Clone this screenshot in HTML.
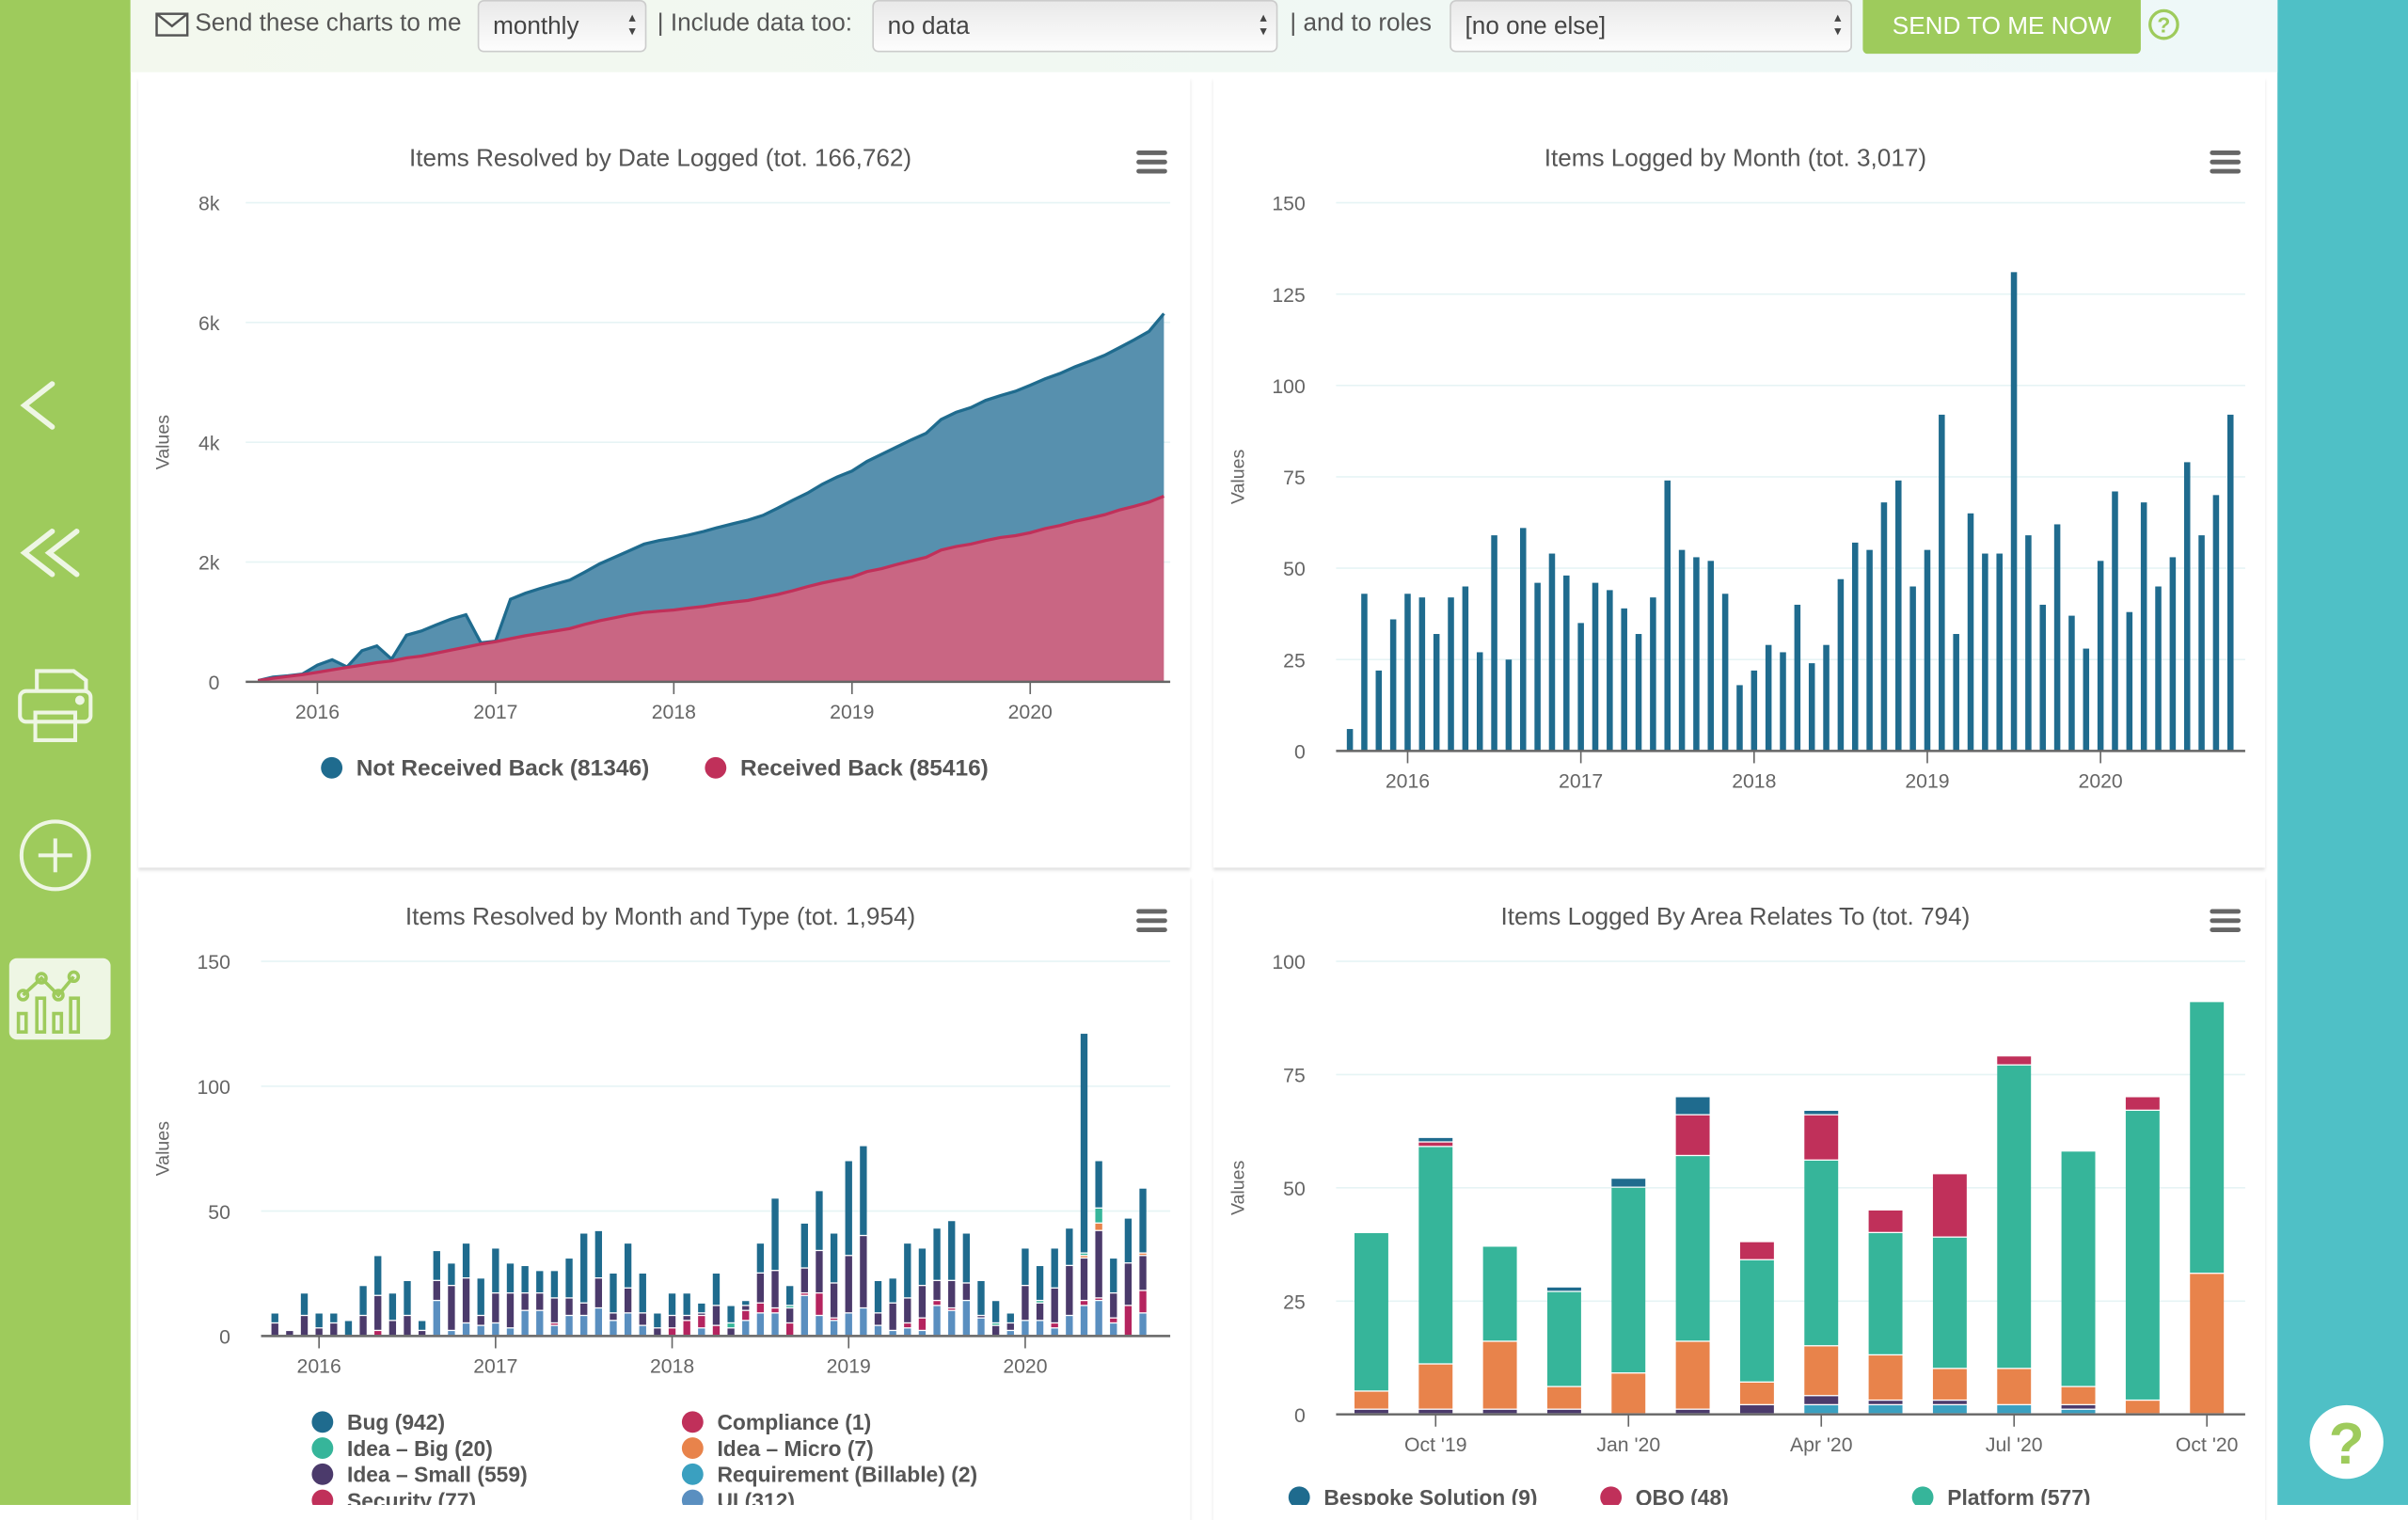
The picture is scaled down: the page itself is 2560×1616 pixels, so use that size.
<!DOCTYPE html>
<html><head><meta charset="utf-8">
<style>
html,body{margin:0;padding:0;width:2560px;height:1600px;overflow:hidden;background:#fff;}
#stage{position:absolute;left:0;top:0;width:1568px;height:980px;transform:scale(1.632653);transform-origin:0 0;font-family:"Liberation Sans",sans-serif;}
.side{position:absolute;left:0;top:0;width:85px;height:980px;background:#9ecb5c;}
.rside{position:absolute;left:1483px;top:0;width:85px;height:980px;background:#4fc0c6;}
.topbar{position:absolute;left:85px;top:0;width:1398px;height:47px;background:linear-gradient(90deg,#f3f8ee,#eef8f8);font-size:16px;color:#555;}
.topbar .t{position:absolute;top:7px;white-space:nowrap;}
.sel{position:absolute;top:0;height:34px;border:1px solid #ccc;border-radius:4px;background:linear-gradient(#e9e9e9,#fdfdfd);box-sizing:border-box;font-size:16px;color:#444;padding:8px 0 0 9px;}
.sel:after{content:"\25B4\A\25BE";white-space:pre;position:absolute;right:6px;top:6px;font-size:9px;line-height:9px;color:#444;}
.btn{position:absolute;left:1128px;top:0;width:181px;height:35px;background:#9ecb5c;color:#fff;font-size:16px;text-align:center;line-height:35px;border-radius:0 0 3px 3px;}
.panel{position:absolute;background:#fff;box-shadow:0 2px 2px rgba(0,0,0,0.12);}
svg text{font-family:"Liberation Sans",sans-serif;}
</style></head>
<body>
<div id="stage">
<div class="side">
 <svg width="85" height="980">
  <g fill="none" stroke="#eef6e4" stroke-width="3.5" stroke-linecap="round">
   <polyline points="34,250 16,264 34,278"/>
   <polyline points="34,346 16,360 34,374"/>
   <polyline points="50,346 32,360 50,374"/>
  </g>
  <g fill="none" stroke="#eef6e4" stroke-width="2.5">
   <path d="M24,450 V437 H48 L56,443 V450"/>
   <rect x="13" y="450" width="46" height="20" rx="4"/>
   <rect x="23" y="464" width="26" height="18"/>
   <circle cx="52" cy="456" r="1.8" fill="#eef6e4"/>
  </g>
  <g fill="none" stroke="#eef6e4" stroke-width="2.5">
   <circle cx="36" cy="557" r="22"/>
   <line x1="25" y1="557" x2="47" y2="557"/><line x1="36" y1="546" x2="36" y2="568"/>
  </g>
  <g>
   <rect x="6" y="624" width="66" height="53" rx="5" fill="#eef6e4"/>
   <g fill="none" stroke="#9ecb5c" stroke-width="2.2">
    <polyline points="15,648 27,637 38,648 48,636"/>
    <circle cx="15" cy="648" r="3"/><circle cx="27" cy="637" r="3"/><circle cx="38" cy="648" r="3"/><circle cx="48" cy="636" r="3"/>
    <rect x="12" y="660" width="5" height="12"/><rect x="24" y="650" width="5" height="22"/><rect x="35" y="660" width="5" height="12"/><rect x="46" y="650" width="5" height="22"/>
   </g>
  </g>
 </svg>
</div>
<div class="rside"></div>

<div class="topbar">
 <svg style="position:absolute;left:16px;top:7px" width="22" height="18"><rect x="1" y="2" width="20" height="14" fill="none" stroke="#555" stroke-width="1.5"/><polyline points="1,2 11,10 21,2" fill="none" stroke="#555" stroke-width="1.5"/></svg>
 <span class="t" style="left:42px">Send these charts to me</span>
 <div class="sel" style="left:226px;width:110px">monthly</div>
 <span class="t" style="left:343px">| Include data too:</span>
 <div class="sel" style="left:483px;width:264px">no data</div>
 <span class="t" style="left:755px">| and to roles</span>
 <div class="sel" style="left:859px;width:262px">[no one else]</div>
 <div class="btn">SEND TO ME NOW</div>
 <svg style="position:absolute;left:1313px;top:5px" width="22" height="22"><circle cx="11" cy="11" r="9" fill="none" stroke="#9ecb5c" stroke-width="2"/><text x="11" y="16" text-anchor="middle" font-size="14" font-weight="bold" fill="#9ecb5c">?</text></svg>
</div>

<div class="panel" style="left:90px;top:50px;width:685px;height:515px"></div>
<div class="panel" style="left:790px;top:50px;width:685px;height:515px"></div>
<div class="panel" style="left:90px;top:570px;width:685px;height:420px"></div>
<div class="panel" style="left:790px;top:570px;width:685px;height:420px"></div>

<svg id="charts" width="1568" height="980" style="position:absolute;left:0;top:0"></svg>

<svg style="position:absolute;left:1502px;top:913px" width="52" height="52"><circle cx="26" cy="26" r="24" fill="#fff"/><text x="26" y="40" text-anchor="middle" font-size="38" font-weight="bold" fill="#9ecb5c">?</text></svg>
</div>

<script>
// ---- Chart 1: Items Resolved by Date Logged (cumulative, Sep 2015 - Oct 2020)
const c1Received = [20,60,90,120, 160,200,240,280,320,350,400,430,480,530,580,630, 670,720,770,810,850,890,960,1020,1070,1120,1160,1180, 1200,1230,1260,1300,1330,1360,1410,1460,1520,1590,1650,1700, 1750,1840,1890,1960,2020,2080,2200,2260,2300,2360,2410,2440, 2490,2560,2610,2680,2730,2790,2870,2930,3000,3100];
const c1NotReceived = [0,20,10,10, 120,170,10,240,280,30,380,420,470,520,540,20, 10,660,710,750,780,810,870,950,1010,1070,1140,1180, 1200,1220,1250,1280,1310,1340,1370,1440,1510,1560,1650,1720, 1770,1840,1910,1960,2020,2070,2180,2240,2280,2340,2370,2410, 2460,2500,2540,2580,2620,2660,2710,2780,2850,3050];
const c1YTicks = [0,2000,4000,6000,8000];
const c1YLabels = ["0","2k","4k","6k","8k"];
const c1XTickIdx = [4,16,28,40,52];
const c1XLabels = ["2016","2017","2018","2019","2020"];
const c1Legend = ["Not Received Back (81346)","Received Back (85416)"];

// ---- Chart 2: Items Logged by Month (Sep 2015 - Oct 2020)
const c2Values = [6,43,22,36,43,42,32,42,45,27,59,25,61,46,54,48,35,46,44,39,32,42,74,55,53,52,43,18,22,29,27,40,24,29,47,57,55,68,74,45,55,92,32,65,54,54,131,59,40,62,37,28,52,71,38,68,45,53,79,59,70,92];
const c2YTicks = [0,25,50,75,100,125,150];
const c2XTickIdx = [4,16,28,40,52];
const c2XLabels = ["2016","2017","2018","2019","2020"];

// ---- Chart 3: Items Resolved by Month and Type (Oct 2015 - Sep 2020)
const c3UI =       [0,0,0,0,0,0,0,0,0,0,0,14,2,5,4,5,3,10,10,4,8,8,11,6,9,4,0,0,0,3,0,0,6,9,9,0,16,8,6,9,11,4,2,3,2,12,10,14,7,0,2,6,6,3,8,12,14,5,0,9];
const c3Security = [0,0,0,0,0,0,0,2,0,0,0,0,0,0,0,0,0,0,0,1,0,0,0,0,0,0,0,3,6,5,4,0,4,4,2,5,1,9,1,0,0,0,0,2,5,2,1,0,0,0,0,0,0,2,0,2,1,2,12,9];
const c3Small =    [5,2,8,3,5,0,8,14,6,8,2,8,18,18,4,12,14,7,7,10,7,5,12,3,10,5,3,5,2,1,8,3,2,12,15,6,10,17,14,23,29,5,11,10,13,8,11,7,1,4,3,14,7,14,20,17,27,10,17,14];
const c3Micro =    [0,0,0,0,0,0,0,0,0,0,0,0,0,0,0,0,0,0,0,0,0,0,0,0,0,0,0,0,0,0,0,0,0,0,0,0,0,0,0,0,0,0,0,0,0,0,0,0,0,0,0,0,0,0,0,1,3,0,0,1];
const c3Big =      [0,0,0,0,0,0,0,0,0,0,0,0,0,0,0,0,0,0,0,0,0,0,0,0,0,0,0,0,0,0,0,2,0,0,0,1,0,0,0,0,0,0,0,0,0,0,0,0,0,1,0,0,1,0,0,1,6,0,0,0];
const c3Bug =      [4,0,9,6,4,6,12,16,11,14,4,12,9,14,15,18,12,11,9,11,16,28,19,16,18,16,6,9,9,4,13,7,2,12,29,8,18,24,20,38,36,13,10,22,15,21,24,20,14,9,4,15,14,16,15,88,19,14,18,26];
const c3YTicks = [0,50,100,150];
const c3XTickIdx = [3,15,27,39,51];
const c3XLabels = ["2016","2017","2018","2019","2020"];
const c3LegendLeft = ["Bug (942)","Idea – Big (20)","Idea – Small (559)","Security (77)"];
const c3LegendRight = ["Compliance (1)","Idea – Micro (7)","Requirement (Billable) (2)","UI (312)"];

// ---- Chart 4: Items Logged By Area Relates To (Sep 2019 - Oct 2020)
const c4Req =      [0,0,0,0,0,0,0,2,2,2,2,1,0,0];
const c4Small =    [1,1,1,1,0,1,2,2,1,1,0,1,0,0];
const c4Micro =    [4,10,15,5,9,15,5,11,10,7,8,4,3,31];
const c4Platform = [35,48,21,21,41,41,27,41,27,29,67,52,64,60];
const c4QBO =      [0,1,0,0,0,9,4,10,5,14,2,0,3,0];
const c4Bespoke =  [0,1,0,1,2,4,0,1,0,0,0,0,0,0];
const c4YTicks = [0,25,50,75,100];
const c4XTickIdx = [1,4,7,10,13];
const c4XLabels = ["Oct '19","Jan '20","Apr '20","Jul '20","Oct '20"];
const c4Legend = ["Bespoke Solution (9)","QBO (48)","Platform (577)"];

const svg = document.getElementById('charts');
const NS = 'http://www.w3.org/2000/svg';
function mk(tag, attrs, parent){
  const e = document.createElementNS(NS, tag);
  for (const k in attrs) e.setAttribute(k, attrs[k]);
  (parent||svg).appendChild(e);
  return e;
}
function txt(x,y,s,size,fill,anchor,parent,weight){
  const t = mk('text',{x:x,y:y,'font-size':size,fill:fill,'text-anchor':anchor||'middle','font-weight':weight||'normal'},parent);
  t.textContent = s;
  return t;
}
function frame(name, title, tx, ty, hx, x0, x1, yTicks, yLabels, yFn, yLabX, axisY, xIdx, xLabels, xFn, vTitleX){
  const g = mk('g',{});
  
  
  const tt = txt(tx,ty,title,16,'#555','middle',g);
  
  
  const hb = mk('g',{},g);
  
  
  for (let k=0;k<3;k++) mk('rect',{x:hx-10,y:ty-10+k*6,width:20,height:3,rx:1.5,fill:'#666'},hb);
  yTicks.forEach((v,i)=>{
    const y = yFn(v);
    if (i>0){
      const gl = mk('line',{x1:x0,x2:x1,y1:y,y2:y,stroke:'#e6f4f5','stroke-width':1},g);
      
      
    }
    const l = txt(yLabX,y+5,yLabels?yLabels[i]:String(v),13,'#666','end',g);
    
    
  });
  const vt = txt(0,0,'Values',12,'#666','middle',g);
  vt.setAttribute('transform','translate('+vTitleX+','+yFn((yTicks[0]+yTicks[yTicks.length-1])/2)+') rotate(-90)');
  
  
  xIdx.forEach((ix,i)=>{
    const x = xFn(ix);
    mk('line',{x1:x,x2:x,y1:axisY,y2:axisY+8,stroke:'#666','stroke-width':1},g);
    const l = txt(x,axisY+24,xLabels[i],13,'#666','middle',g);
    
    
  });
  return g;
}

// Chart 1
(function(){
  const xF = i => 168 + i*9.67;
  const yF = v => 444 - v*312/8000;
  const g = frame('resolved-by-date-chart','Items Resolved by Date Logged (tot. 166,762)',430,108,750,160,762,c1YTicks,c1YLabels,yF,143,444,c1XTickIdx,c1XLabels,xF,110);
  const n = c1Received.length;
  let red = [], top = [];
  for (let i=0;i<n;i++){ red.push([xF(i),yF(c1Received[i])]); top.push([xF(i),yF(c1Received[i]+c1NotReceived[i])]); }
  const pts = a => a.map(p=>p[0].toFixed(1)+','+p[1].toFixed(1)).join(' ');
  const ab = mk('polygon',{points:pts(top)+' '+pts(red.slice().reverse()),fill:'#5790ae'},g);
  
  
  const ar = mk('polygon',{points:pts(red)+' '+xF(n-1)+','+yF(0)+' '+xF(0)+','+yF(0),fill:'#c96683'},g);
  
  
  mk('polyline',{points:pts(top),fill:'none',stroke:'#1f6b8e','stroke-width':2},g);
  mk('polyline',{points:pts(red),fill:'none',stroke:'#c0305a','stroke-width':2},g);
  mk('line',{x1:160,x2:762,y1:444,y2:444,stroke:'#666','stroke-width':1.5},g);
  const cols = ['#1f6b8e','#c0305a'], lx=[216,466];
  c1Legend.forEach((s,i)=>{
    const lg = mk('g',{},g);
    
    
    mk('circle',{cx:lx[i],cy:500,r:7,fill:cols[i]},lg);
    txt(lx[i]+16,505,s,15,'#555','start',lg,'bold');
  });
})();

// Chart 2
(function(){
  const xF = i => 879 + i*9.4;
  const yF = v => 489 - v*357/150;
  const g = frame('logged-by-month-chart','Items Logged by Month (tot. 3,017)',1130,108,1449,870,1462,c2YTicks,null,yF,850,489,c2XTickIdx,c2XLabels,xF,810);
  c2Values.forEach((v,i)=>{
    const r = mk('rect',{x:xF(i)-2,y:yF(v),width:4,height:yF(0)-yF(v),fill:'#1f6b8e'},g);
    
    
  });
  mk('line',{x1:870,x2:1462,y1:489,y2:489,stroke:'#666','stroke-width':1.5},g);
})();

// stacked bar helper
function stack(g, series, colors, xF, yF, w){
  const n = series[0].length;
  for (let i=0;i<n;i++){
    let acc = 0;
    series.forEach((s,k)=>{
      const v = s[i];
      if (v<=0) return;
      const y0 = yF(acc), y1 = yF(acc+v);
      const r = mk('rect',{x:xF(i)-w/2,y:y1,width:w,height:Math.max(0,y0-y1-0.8),fill:colors[k]},g);
      
      
      acc += v;
    });
  }
}

// Chart 3
(function(){
  const xF = i => 179 + i*9.58;
  const yF = v => 870 - v*244/150;
  const g = frame('resolved-by-type-chart','Items Resolved by Month and Type (tot. 1,954)',430,602,750,170,762,c3YTicks,null,yF,150,870,c3XTickIdx,c3XLabels,xF,110);
  stack(g,[c3UI,c3Security,c3Small,c3Micro,c3Big,c3Bug],['#5a8fc0','#b5245f','#4b3a6b','#e8834b','#36b59a','#1f6b8e'],xF,yF,4.5);
  mk('line',{x1:170,x2:762,y1:870,y2:870,stroke:'#666','stroke-width':1.5},g);
  const cl=['#1f6b8e','#36b59a','#4b3a6b','#c0305a'], cr=['#c0305a','#e8834b','#3aa0c0','#5a8fc0'];
  c3LegendLeft.forEach((s,i)=>{
    const lg = mk('g',{},g);
    
    
    mk('circle',{cx:210,cy:926+i*17,r:7,fill:cl[i]},lg);
    txt(226,931+i*17,s,14,'#555','start',lg,'bold');
  });
  c3LegendRight.forEach((s,i)=>{
    const lg = mk('g',{},g);
    
    
    mk('circle',{cx:451,cy:926+i*17,r:7,fill:cr[i]},lg);
    txt(467,931+i*17,s,14,'#555','start',lg,'bold');
  });
})();

// Chart 4
(function(){
  const xF = i => 893 + i*41.85;
  const yF = v => 921 - v*2.95;
  const g = frame('logged-by-area-chart','Items Logged By Area Relates To (tot. 794)',1130,602,1449,870,1462,c4YTicks,null,yF,850,921,c4XTickIdx,c4XLabels,xF,810);
  stack(g,[c4Req,c4Small,c4Micro,c4Platform,c4QBO,c4Bespoke],['#3aa0c0','#4b3a6b','#e8834b','#36b59a','#c0305a','#1f6b8e'],xF,yF,22);
  mk('line',{x1:870,x2:1462,y1:921,y2:921,stroke:'#666','stroke-width':1.5},g);
  const lc=['#1f6b8e','#c0305a','#36b59a'], lx=[846,1049,1252];
  c4Legend.forEach((s,i)=>{
    const lg = mk('g',{},g);
    
    
    mk('circle',{cx:lx[i],cy:975,r:7,fill:lc[i]},lg);
    txt(lx[i]+16,980,s,14,'#555','start',lg,'bold');
  });
})();
</script>
</body></html>
